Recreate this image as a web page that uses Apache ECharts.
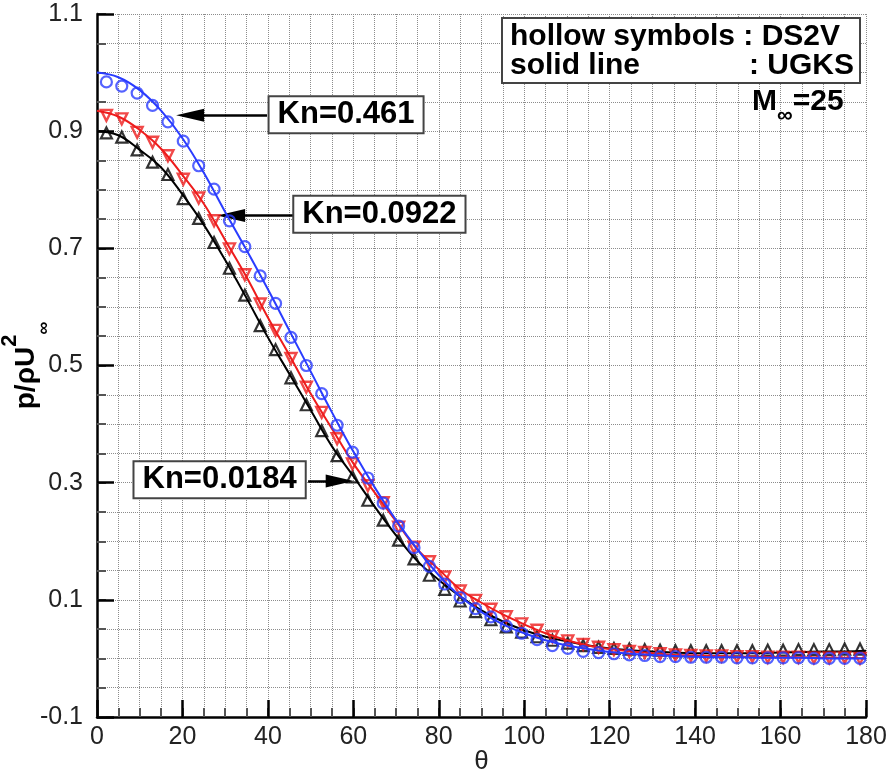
<!DOCTYPE html>
<html>
<head>
<meta charset="utf-8">
<script src="https://cdn.jsdelivr.net/npm/echarts@6/dist/echarts.min.js"></script>
<style>html,body{margin:0;padding:0;background:#fff}#c{width:894px;height:781px}</style>
</head>
<body>
<div id="c"></div>
<script>
const FONT = '"Liberation Sans", Arial, Helvetica, sans-serif';

// UGKS solid lines, sampled every 5 degrees
const thetaLine = [0,5,10,15,20,25,30,35,40,45,50,55,60,65,70,75,80,85,90,95,100,105,110,115,120,125,130,135,140,145,150,155,160,165,170,175,180];
const ugksKn0461 = [1.000,0.992,0.970,0.935,0.888,0.829,0.762,0.697,0.630,0.560,0.490,0.420,0.353,0.292,0.236,0.186,0.142,0.106,0.079,0.058,0.043,0.031,0.022,0.016,0.011,0.008,0.006,0.004,0.003,0.002,0.002,0.001,0.001,0.001,0.000,0.000,0.000];
const ugksKn00922 = [0.935,0.925,0.902,0.870,0.825,0.776,0.714,0.651,0.582,0.518,0.452,0.392,0.333,0.283,0.234,0.186,0.152,0.118,0.095,0.075,0.058,0.043,0.031,0.022,0.016,0.012,0.009,0.006,0.005,0.004,0.003,0.003,0.002,0.002,0.001,0.001,0.000];
const ugksKn00184 = [0.900,0.893,0.868,0.838,0.792,0.740,0.680,0.615,0.548,0.486,0.424,0.362,0.311,0.259,0.210,0.166,0.134,0.106,0.082,0.063,0.048,0.037,0.029,0.022,0.017,0.014,0.012,0.010,0.009,0.009,0.009,0.009,0.010,0.011,0.012,0.012,0.013];

// DS2V hollow symbols
const thetaDS = [2.2,5.8,9.4,13.0,16.6,20.2,23.8,27.4,31.0,34.6,38.2,41.8,45.4,49.0,52.6,56.2,59.8,63.4,67.0,70.6,74.2,77.8,81.4,85.0,88.6,92.2,95.8,99.4,103.0,106.6,110.2,113.8,117.4,121.0,124.6,128.2,131.8,135.4,139.0,142.6,146.2,149.8,153.4,157.0,160.6,164.2,167.8,171.4,175.0,178.6];
const ds2vKn0461 = [0.984,0.977,0.965,0.944,0.916,0.883,0.841,0.801,0.747,0.703,0.653,0.606,0.548,0.500,0.452,0.398,0.352,0.308,0.265,0.226,0.189,0.157,0.127,0.104,0.085,0.071,0.055,0.043,0.032,0.022,0.017,0.012,0.010,0.008,0.006,0.005,0.003,0.003,0.002,0.002,0.002,0.001,0.001,0.001,0.001,0.001,0.000,0.000,0.000,0.000];
const ds2vKn00922 = [0.927,0.921,0.898,0.881,0.858,0.818,0.786,0.747,0.699,0.655,0.605,0.560,0.512,0.463,0.420,0.375,0.332,0.295,0.266,0.224,0.190,0.165,0.139,0.115,0.099,0.084,0.071,0.059,0.048,0.037,0.030,0.024,0.019,0.015,0.012,0.010,0.008,0.006,0.005,0.004,0.004,0.003,0.003,0.002,0.002,0.002,0.001,0.001,0.001,0.000];
const ds2vKn00184 = [0.897,0.890,0.868,0.847,0.826,0.785,0.751,0.710,0.666,0.620,0.568,0.527,0.479,0.433,0.389,0.346,0.310,0.270,0.236,0.202,0.170,0.142,0.118,0.098,0.080,0.066,0.054,0.045,0.037,0.031,0.026,0.022,0.019,0.017,0.016,0.015,0.014,0.013,0.013,0.013,0.013,0.013,0.013,0.014,0.014,0.015,0.015,0.015,0.016,0.016];

// tick labels
const yTickValues = [-0.1,0.1,0.3,0.5,0.7,0.9,1.1];
const yTickLabels = ['-0.1','0.1','0.3','0.5','0.7','0.9','1.1'];

const zip = (xs, ys) => xs.map((x, i) => [x, ys[i]]);
const BLUE = '#2a3cff', RED = '#ee1c1c', BLACK = '#000';

const gridLine = {show: true, lineStyle: {type: 'dotted', color: '#8c8c8c', width: 1}};

const chart = echarts.init(document.getElementById('c'));

const boxLabel = {
  show: true, position: 'inside', formatter: p => p.name,
  fontFamily: FONT, fontSize: 31, fontWeight: 'bold', color: '#000',
  backgroundColor: '#fff', borderColor: '#444', borderWidth: 2,
  padding: [3, 8, 1, 8]
};
const arrowHead = (coord, rot) => ({
  coord, symbol: 'triangle', symbolSize: [13, 28], symbolRotate: rot,
  itemStyle: {color: '#000'}, label: {show: false}
});

const option = {
  animation: false,
  backgroundColor: '#fff',
  grid: {left: 97, right: 28, top: 14, bottom: 64, containLabel: false, outerBoundsMode: 'none'},
  xAxis: [
    {
      type: 'value', min: 0, max: 180, interval: 5, position: 'bottom',
      axisLine: {show: true, onZero: false, lineStyle: {color: '#000', width: 2.5}},
      axisTick: {show: true, inside: true, length: 9, lineStyle: {color: '#555', width: 2}},
      axisLabel: {show: false},
      splitLine: gridLine
    },
    {
      type: 'value', min: 0, max: 180, interval: 20, position: 'bottom',
      axisLine: {show: false, onZero: false},
      axisTick: {show: true, inside: true, length: 17, lineStyle: {color: '#000', width: 2.5}},
      axisLabel: {show: true, fontFamily: FONT, fontSize: 25, color: '#222', margin: 8},
      splitLine: {show: false},
      name: 'θ', nameLocation: 'middle', nameGap: 32, nameMoveOverlap: false,
      nameTextStyle: {fontFamily: FONT, fontSize: 26, color: '#222'}
    }
  ],
  yAxis: [
    {
      type: 'value', min: -0.1, max: 1.1, interval: 0.05, position: 'left',
      axisLine: {show: true, onZero: false, lineStyle: {color: '#000', width: 2.5}},
      axisTick: {show: true, inside: true, length: 9, lineStyle: {color: '#555', width: 2}},
      axisLabel: {show: false},
      splitLine: gridLine
    },
    {
      type: 'value', min: -0.1, max: 1.1, interval: 0.05, position: 'left',
      axisLine: {show: false, onZero: false},
      axisTick: {show: true, inside: true, length: 17, customValues: yTickValues, lineStyle: {color: '#000', width: 2.5}},
      axisLabel: {
        show: true, customValues: yTickValues, fontFamily: FONT, fontSize: 25, color: '#222', margin: 14,
        formatter: v => {
          const i = yTickValues.findIndex(t => Math.abs(t - v) < 1e-6);
          return i >= 0 ? yTickLabels[i] : '';
        }
      },
      splitLine: {show: false},
      name: '{a|p/ρU}{b|2}{c|∞}', nameLocation: 'middle', nameGap: 44, nameMoveOverlap: false,
      nameTextStyle: {
        rich: {
          a: {fontFamily: FONT, fontSize: 28, fontWeight: 'bold', color: '#000', lineHeight: 54},
          b: {fontFamily: FONT, fontSize: 22, fontWeight: 'bold', color: '#000', lineHeight: 22, verticalAlign: 'top'},
          c: {fontFamily: FONT, fontSize: 18, fontWeight: 'bold', color: '#000', lineHeight: 32, verticalAlign: 'bottom'}
        }
      }
    }
  ],
  series: [
    {type: 'line', name: 'UGKS Kn=0.0184', data: zip(thetaLine, ugksKn00184), smooth: 0.4, showSymbol: false,
     lineStyle: {color: BLACK, width: 2}, z: 2},
    {type: 'scatter', name: 'DS2V Kn=0.0184', data: zip(thetaDS, ds2vKn00184), symbol: 'triangle', symbolSize: 11,
     itemStyle: {color: 'rgba(255,255,255,0)', borderColor: BLACK, borderWidth: 2.2}, z: 3},
    {type: 'line', name: 'UGKS Kn=0.0922', data: zip(thetaLine, ugksKn00922), smooth: 0.4, showSymbol: false,
     lineStyle: {color: RED, width: 2}, z: 4},
    {type: 'scatter', name: 'DS2V Kn=0.0922', data: zip(thetaDS, ds2vKn00922), symbol: 'triangle', symbolRotate: 180, symbolSize: 11,
     itemStyle: {color: 'rgba(255,255,255,0)', borderColor: RED, borderWidth: 2.4}, z: 5},
    {type: 'line', name: 'UGKS Kn=0.461', data: zip(thetaLine, ugksKn0461), smooth: 0.4, showSymbol: false,
     lineStyle: {color: BLUE, width: 2}, z: 6},
    {type: 'scatter', name: 'DS2V Kn=0.461', data: zip(thetaDS, ds2vKn0461), symbol: 'circle', symbolSize: 11,
     itemStyle: {color: 'rgba(255,255,255,0)', borderColor: BLUE, borderWidth: 2.2}, z: 7,
     markLine: {
       silent: true, symbol: ['none', 'none'],
       lineStyle: {color: '#000', width: 2.5, type: 'solid'}, label: {show: false},
       emphasis: {disabled: true},
       data: [
         [{coord: [39.8, 0.927]}, {coord: [20.0, 0.927]}],
         [{coord: [47.5, 0.756]}, {coord: [29.6, 0.756]}],
         [{coord: [49.4, 0.303]}, {coord: [58.6, 0.303]}]
       ]
     },
     markPoint: {
       silent: true, symbol: 'rect', symbolSize: 1, itemStyle: {color: 'rgba(0,0,0,0)'},
       label: boxLabel,
       data: [
         {name: 'Kn=0.461', coord: [58.3, 0.928]},
         {name: 'Kn=0.0922', coord: [66.1, 0.758]},
         {name: 'Kn=0.0184', coord: [28.7, 0.305]},
         arrowHead([21.8, 0.927], 90),
         arrowHead([31.4, 0.756], 90),
         arrowHead([56.8, 0.303], -90)
       ]
     }
    }
  ],
  graphic: [
    {type: 'rect', z: 100, shape: {x: 502, y: 18, width: 358, height: 65},
     style: {fill: '#fff', stroke: '#444', lineWidth: 2}},
    {type: 'text', z: 101, x: 510, y: 37,
     style: {text: 'hollow symbols : DS2V', fontFamily: FONT, fontSize: 30, fontWeight: 'bold', fill: '#000', verticalAlign: 'middle', align: 'left'}},
    {type: 'text', z: 101, x: 510, y: 66,
     style: {text: 'solid line', fontFamily: FONT, fontSize: 30, fontWeight: 'bold', fill: '#000', verticalAlign: 'middle', align: 'left'}},
    {type: 'text', z: 101, x: 749, y: 66,
     style: {text: ': UGKS', fontFamily: FONT, fontSize: 30, fontWeight: 'bold', fill: '#000', verticalAlign: 'middle', align: 'left'}},
    {type: 'text', z: 101, x: 752, y: 102,
     style: {
       text: '{m|M}{s|∞}{m|=25}', verticalAlign: 'middle', align: 'left',
       rich: {
         m: {fontFamily: FONT, fontSize: 30, fontWeight: 'bold', fill: '#000', lineHeight: 50},
         s: {fontFamily: FONT, fontSize: 22, fontWeight: 'bold', fill: '#000', lineHeight: 22, verticalAlign: 'bottom'}
       }
     }}
  ]
};
chart.setOption(option);
</script>
</body>
</html>
